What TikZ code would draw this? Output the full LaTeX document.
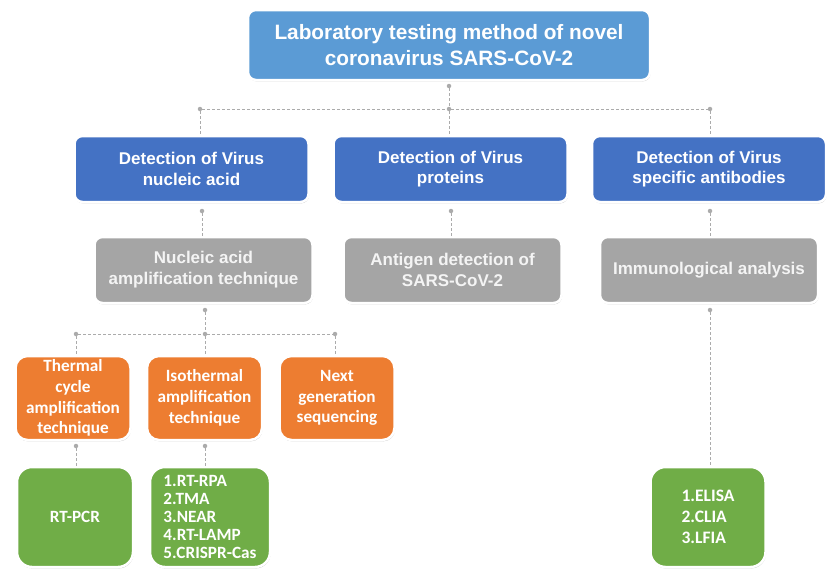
\documentclass[tikz,border=0pt]{standalone}
\usepackage{fontspec}
\setmainfont{Liberation Sans}
\newfontfamily\calfont{Carlito}
\usetikzlibrary{shadows}
\definecolor{topblue}{HTML}{5B9BD5}
\definecolor{midblue}{HTML}{4472C4}
\definecolor{boxgray}{HTML}{A5A5A5}
\definecolor{boxorange}{HTML}{ED7D31}
\definecolor{boxgreen}{HTML}{70AD47}
\definecolor{linegray}{HTML}{ABABAB}
\definecolor{offwhite}{HTML}{F4F4F4}
\begin{document}
\begin{tikzpicture}[x=1pt,y=-1pt,
  box/.style={rectangle, rounded corners=8pt, draw=white, line width=2.5pt,
    text=white, align=center, inner sep=0pt,
    drop shadow={shadow xshift=0.6pt, shadow yshift=-1.4pt, opacity=0.3, fill=black!70}},
  topbox/.style={box, fill=topblue, minimum width=402pt, minimum height=70pt,
    font=\fontsize{20.8}{26}\selectfont\bfseries},
  bluebox/.style={box, fill=midblue, minimum width=234pt, minimum height=66pt,
    font=\fontsize{17}{20.5}\selectfont\bfseries},
  graybox/.style={box, fill=boxgray, text=offwhite, minimum width=218pt, minimum height=66pt,
    font=\fontsize{17}{21}\selectfont\bfseries},
  orangebox/.style={box, rounded corners=12pt, fill=boxorange, minimum width=115pt, minimum height=84pt,
    font=\calfont\fontsize{17.2}{20.7}\selectfont\bfseries},
  greenbox/.style={box, rounded corners=15pt, fill=boxgreen, minimum height=100pt, align=left,
    font=\calfont\fontsize{17.2}{17.8}\selectfont\bfseries},
  conn/.style={draw=linegray, line width=1pt, dash pattern=on 3pt off 2pt},
  dot/.style={circle, fill=linegray, inner sep=0pt, minimum size=4.5pt}
]
\useasboundingbox (0,0) rectangle (829,570);

% boxes
\node[topbox] (top) at (449,45) {Laboratory testing method of novel\\coronavirus SARS-CoV-2};

\node[bluebox] (blue1) at (191.5,169) {Detection of Virus\\nucleic acid};
\node[bluebox] (blue2) at (450.5,169) {Detection of Virus\\proteins};
\node[bluebox] (blue3) at (709,169) {Detection of Virus\\specific antibodies};

\node[graybox] (gray1) at (203.5,270) {Nucleic acid\\amplification technique};
\node[graybox] (gray2) at (452.5,270) {Antigen detection of\\SARS-CoV-2};
\node[graybox] (gray3) at (709,270) {Immunological analysis};

\node[orangebox] (or1) at (73,398) {Thermal\\cycle\\amplification\\technique};
\node[orangebox] (or2) at (204.5,398) {Isothermal\\amplification\\technique};
\node[orangebox] (or3) at (337,398) {Next\\generation\\sequencing};

\node[greenbox, minimum width=116pt, align=center] (gr1) at (75,517) {RT-PCR};
\node[greenbox, minimum width=120pt] (gr2) at (210,517) {1.RT-RPA\\2.TMA\\3.NEAR\\4.RT-LAMP\\5.CRISPR-Cas};
\node[greenbox, minimum width=115pt, font=\calfont\fontsize{17.5}{21}\selectfont\bfseries] (gr3) at (708,517) {1.ELISA\\2.CLIA\\3.LFIA};

% junction dots
\node[dot] (dt) at (449,86) {};
\node[dot] (jt) at (449,109) {};
\node[dot] (jl) at (200,109) {};
\node[dot] (jr) at (710,109) {};
\node[dot] (db1) at (202,211) {};
\node[dot] (db2) at (451,211) {};
\node[dot] (db3) at (710,211) {};
\node[dot] (dg1) at (205,310) {};
\node[dot] (dg3) at (710,310) {};
\node[dot] (jo) at (205,334) {};
\node[dot] (jol) at (76,334) {};
\node[dot] (jor) at (335,334) {};
\node[dot] (do1) at (76,446) {};
\node[dot] (do2) at (205,446) {};

% connectors
\draw[conn] (dt) -- (jt);
\draw[conn] (jl) -- (jt);
\draw[conn] (jt) -- (jr);
\draw[conn] (jl) -- (jl |- blue1.north);
\draw[conn] (jt) -- (jt |- blue2.north);
\draw[conn] (jr) -- (jr |- blue3.north);
\draw[conn] (db1) -- (db1 |- gray1.north);
\draw[conn] (db2) -- (db2 |- gray2.north);
\draw[conn] (db3) -- (db3 |- gray3.north);
\draw[conn] (dg1) -- (jo);
\draw[conn] (jol) -- (jo);
\draw[conn] (jo) -- (jor);
\draw[conn] (jol) -- (jol |- or1.north);
\draw[conn] (jo) -- (jo |- or2.north);
\draw[conn] (jor) -- (jor |- or3.north);
\draw[conn] (do1) -- (do1 |- gr1.north);
\draw[conn] (do2) -- (do2 |- gr2.north);
\draw[conn] (dg3) -- (dg3 |- gr3.north);
\end{tikzpicture}
\end{document}
